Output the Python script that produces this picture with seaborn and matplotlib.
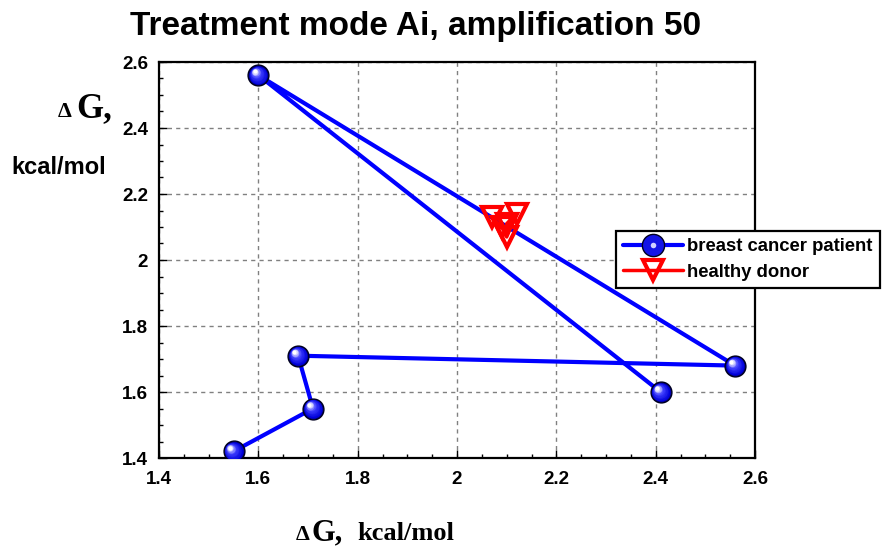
import numpy as np
import pandas as pd
import matplotlib
matplotlib.use("Agg")
import matplotlib.pyplot as plt
import matplotlib.transforms as mtransforms
from matplotlib.lines import Line2D
from matplotlib.legend_handler import HandlerTuple
import seaborn as sns

# ---- data ----
patient_x = [1.55, 1.71, 1.68, 2.56, 1.60, 2.41]
patient_y = [1.42, 1.55, 1.71, 1.68, 2.56, 1.60]
donor_x = [2.07, 2.09, 2.10, 2.12, 2.10]
donor_y = [2.13, 2.10, 2.07, 2.14, 2.11]
series_names = ["breast cancer patient", "healthy donor"]
tick_values = [1.4, 1.6, 1.8, 2.0, 2.2, 2.4, 2.6]
tick_labels = ["1.4", "1.6", "1.8", "2", "2.2", "2.4", "2.6"]
title_text = "Treatment mode Ai, amplification 50"

sns.set_theme(style="white")
plt.rcParams["font.family"] = ["Liberation Sans", "DejaVu Sans"]
for k in ["text.color", "axes.labelcolor", "xtick.color", "ytick.color", "axes.edgecolor"]:
    plt.rcParams[k] = "black"

fig = plt.figure(figsize=(8.87, 5.46), dpi=100)
ax = fig.add_axes([159/887, 1-458/546, (755-159)/887, (458-62)/546])

blue = "#0000ff"
red = "#ff0000"

df_p = pd.DataFrame({"x": patient_x, "y": patient_y})
df_d = pd.DataFrame({"x": donor_x, "y": donor_y})

sns.lineplot(data=df_p, x="x", y="y", sort=False, estimator=None, ax=ax,
             color=blue, lw=3.0, zorder=3)
sns.lineplot(data=df_d, x="x", y="y", sort=False, estimator=None, ax=ax,
             color=red, lw=2.5, zorder=5, marker="v", markersize=14,
             markerfacecolor="none", markeredgecolor=red, markeredgewidth=3)

# shaded spheres
def sphere(ax_, xs, ys, base=15, z=6):
    ax_.plot(xs, ys, ls="none", marker="o", ms=base, mfc="#00007a",
             mec="#000020", mew=1.0, zorder=z)
    n = 12
    mid = np.array([0.25, 0.25, 1.0])
    c0 = np.array([0.0, 0.0, 0.85])
    c1 = np.array([1.0, 1.0, 1.0])
    for i in range(n):
        f = i / (n - 1)
        s = base * (0.88 * (1 - f) + 0.2 * f)
        if f < 0.6:
            c = c0 + (mid - c0) * (f / 0.6)
        else:
            c = mid + (c1 - mid) * ((f - 0.6) / 0.4)
        off = mtransforms.offset_copy(ax_.transData, fig=fig,
                                      x=-2.7 * f, y=2.7 * f, units="points")
        ax_.plot(xs, ys, ls="none", marker="o", ms=s, mfc=tuple(c), mec="none",
                 transform=off, zorder=z + 0.01 * (i + 1))

sphere(ax, patient_x, patient_y)

ax.set_xlim(1.4, 2.6)
ax.set_ylim(1.4, 2.6)
ax.set_xticks(tick_values)
ax.set_xticklabels(tick_labels)
ax.set_yticks(tick_values)
ax.set_yticklabels(tick_labels)
ax.set_xticks(np.arange(1.45, 2.6, 0.05), minor=True)
ax.set_yticks(np.arange(1.45, 2.6, 0.05), minor=True)
ax.tick_params(axis="x", which="major", pad=9)
ax.tick_params(axis="y", which="major", pad=8)
ax.tick_params(axis="both", which="major", direction="in", length=6, width=1,
               color="black", labelsize=13.5, bottom=True, left=True,
               labelcolor="black")
ax.tick_params(axis="both", which="minor", direction="in", length=3, width=1,
               color="black", bottom=True, left=True)
for lab in ax.get_xticklabels() + ax.get_yticklabels():
    lab.set_fontweight("bold")
ax.grid(True, which="major", color="#808080", ls=(0, (3, 3)), lw=1.0)
for sp in ax.spines.values():
    sp.set_color("black")
    sp.set_linewidth(1.6)
ax.set_xlabel("")
ax.set_ylabel("")

fig.text(416/887, 1-27/546, title_text, ha="center", va="center",
         fontsize=24, fontweight="bold", color="black")

# axis labels
serif = ["Liberation Serif", "DejaVu Serif"]
fig.text(296/887, 1-540/546, "Δ", fontsize=16, fontweight="bold", family=serif,
         ha="left", va="baseline")
fig.text(312/887, 1-540/546, "G,", fontsize=22, fontweight="bold", family=serif,
         ha="left", va="baseline")
fig.text(357/887, 1-540/546, "kcal/mol", fontsize=19, fontweight="bold", family=serif,
         ha="left", va="baseline")
fig.text(58/887, 1-117/546, "Δ", fontsize=16, fontweight="bold", family=serif,
         ha="left", va="baseline")
fig.text(76/887, 1-117/546, "G,", fontsize=25, fontweight="bold", family=serif,
         ha="left", va="baseline")
fig.text(11/887, 1-174/546, "kcal/mol", fontsize=17, fontweight="bold",
         ha="left", va="baseline")

# legend
h_base = Line2D([], [], color=blue, lw=3, marker="o", ms=16, mfc="#1414e6", mec="#000020")
h_hi = Line2D([], [], ls="none", marker="o", ms=4, mfc="#d0d0ff", mec="none")
h_red = Line2D([], [], color=red, lw=2.5, marker="v", ms=14, mfc="none", mec=red, mew=3)
leg = fig.legend([(h_base, h_hi), h_red], series_names,
                 handler_map={tuple: HandlerTuple(ndivide=1)},
                 loc="upper left", bbox_to_anchor=(616/887, 1-231/546),
                 frameon=True, fancybox=False, edgecolor="black", framealpha=1,
                 prop={"weight": "bold", "size": 13.3}, handlelength=3.2,
                 handletextpad=0.25, borderpad=0.4, labelspacing=0.45,
                 borderaxespad=0)
leg.get_frame().set_linewidth(1.6)
for t in leg.get_texts():
    t.set_color("black")

fig.savefig("out.png", dpi=100)
